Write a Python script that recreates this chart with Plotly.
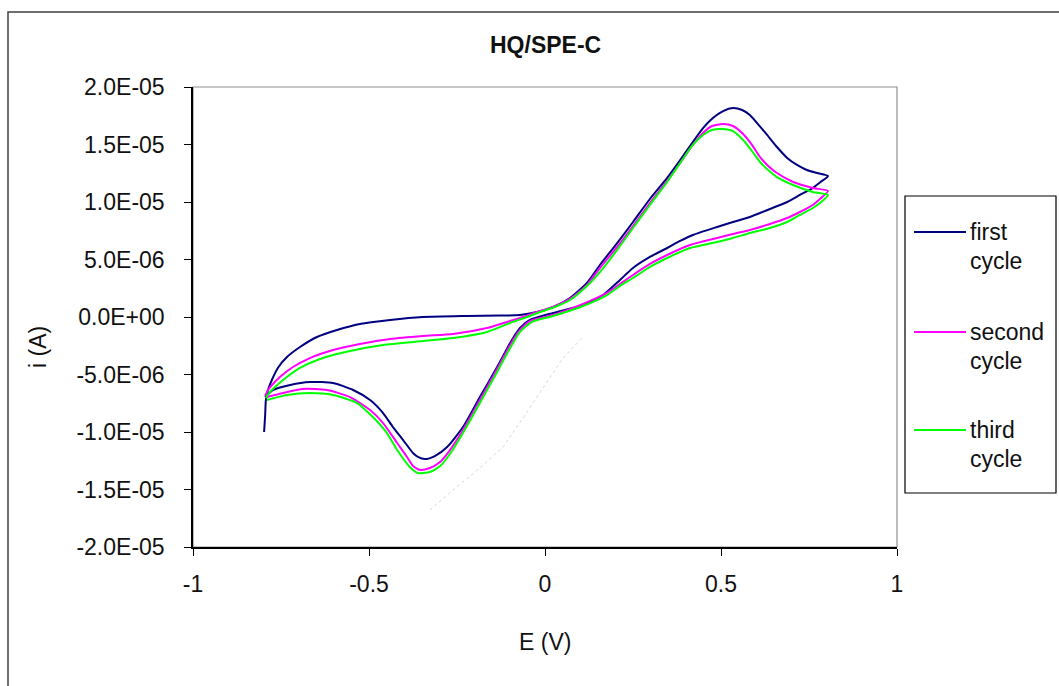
import plotly.graph_objects as go

# ---------------- data ----------------
series_names = ["first cycle", "second cycle", "third cycle"]
series_colors = ["#000080", "#FF00FF", "#00FF00"]

E_first = [-0.798, -0.795, -0.793, -0.787, -0.776, -0.759, -0.733, -0.696, -0.648, -0.591,
           -0.526, -0.440, -0.347, -0.222, -0.128, -0.071, -0.023, 0.023, 0.071, 0.119,
           0.156, 0.205, 0.250, 0.298, 0.347, 0.384, 0.420, 0.449, 0.477, 0.506,
           0.534, 0.560, 0.582, 0.605, 0.631, 0.659, 0.688, 0.716, 0.744, 0.773,
           0.804, 0.781, 0.761, 0.724, 0.688, 0.639, 0.582, 0.534, 0.489, 0.420,
           0.384, 0.347, 0.298, 0.250, 0.213, 0.165, 0.099, 0.023, -0.043, -0.071,
           -0.099, -0.136, -0.185, -0.233, -0.278, -0.313, -0.341, -0.361, -0.375, -0.403,
           -0.432, -0.460, -0.497, -0.545, -0.602, -0.668, -0.724, -0.773, -0.795]
i_first = [-1.000, -0.852, -0.722, -0.635, -0.548, -0.443, -0.348, -0.261, -0.174, -0.113,
           -0.061, -0.026, 0.000, 0.009, 0.013, 0.017, 0.043, 0.087, 0.165, 0.296,
           0.452, 0.643, 0.826, 1.026, 1.209, 1.365, 1.522, 1.643, 1.730, 1.791,
           1.817, 1.800, 1.757, 1.678, 1.583, 1.478, 1.383, 1.322, 1.278, 1.252,
           1.226, 1.170, 1.122, 1.061, 1.000, 0.939, 0.870, 0.826, 0.783, 0.713,
           0.661, 0.600, 0.522, 0.426, 0.322, 0.191, 0.096, 0.035, -0.026, -0.096,
           -0.226, -0.435, -0.696, -0.957, -1.130, -1.209, -1.235, -1.217, -1.183, -1.070,
           -0.957, -0.835, -0.722, -0.635, -0.574, -0.565, -0.591, -0.635, -0.696]

E_second = [-0.795, -0.787, -0.773, -0.753, -0.716, -0.668, -0.602, -0.526, -0.440, -0.347,
            -0.261, -0.165, -0.108, -0.063, -0.023, 0.023, 0.071, 0.119, 0.156, 0.205,
            0.250, 0.298, 0.347, 0.384, 0.420, 0.449, 0.474, 0.506, 0.534, 0.563,
            0.588, 0.611, 0.634, 0.659, 0.705, 0.761, 0.804, 0.781, 0.761, 0.724,
            0.688, 0.639, 0.582, 0.534, 0.489, 0.412, 0.347, 0.298, 0.250, 0.213,
            0.176, 0.108, 0.023, -0.043, -0.071, -0.099, -0.136, -0.185, -0.233, -0.270,
            -0.298, -0.327, -0.355, -0.375, -0.392, -0.420, -0.460, -0.497, -0.554, -0.619,
            -0.688, -0.744, -0.790]
i_second = [-0.687, -0.635, -0.583, -0.522, -0.435, -0.357, -0.287, -0.235, -0.191, -0.165,
            -0.148, -0.096, -0.043, 0.000, 0.043, 0.087, 0.157, 0.278, 0.426, 0.609,
            0.791, 0.991, 1.183, 1.339, 1.496, 1.600, 1.661, 1.678, 1.661, 1.591,
            1.496, 1.391, 1.313, 1.252, 1.174, 1.122, 1.096, 1.026, 0.974, 0.913,
            0.861, 0.809, 0.757, 0.722, 0.687, 0.626, 0.539, 0.461, 0.365, 0.287,
            0.209, 0.113, 0.017, -0.035, -0.113, -0.243, -0.452, -0.722, -0.983, -1.157,
            -1.261, -1.313, -1.330, -1.296, -1.217, -1.096, -0.922, -0.809, -0.696, -0.635,
            -0.626, -0.661, -0.696]

E_third = [-0.793, -0.784, -0.773, -0.744, -0.696, -0.631, -0.554, -0.460, -0.347, -0.261,
           -0.165, -0.099, -0.051, -0.014, 0.028, 0.071, 0.119, 0.156, 0.205, 0.250,
           0.298, 0.347, 0.384, 0.420, 0.449, 0.474, 0.503, 0.534, 0.563, 0.588,
           0.611, 0.634, 0.659, 0.705, 0.761, 0.804, 0.781, 0.761, 0.724, 0.688,
           0.639, 0.582, 0.534, 0.489, 0.412, 0.347, 0.298, 0.250, 0.213, 0.176,
           0.108, 0.023, -0.037, -0.071, -0.099, -0.136, -0.185, -0.233, -0.270, -0.298,
           -0.327, -0.361, -0.384, -0.420, -0.449, -0.489, -0.534, -0.602, -0.668, -0.733,
           -0.790]
i_third = [-0.704, -0.661, -0.626, -0.548, -0.443, -0.357, -0.296, -0.243, -0.209, -0.183,
           -0.130, -0.052, 0.000, 0.043, 0.087, 0.148, 0.270, 0.391, 0.583, 0.774,
           0.974, 1.174, 1.339, 1.496, 1.583, 1.626, 1.635, 1.617, 1.539, 1.443,
           1.348, 1.278, 1.217, 1.148, 1.087, 1.061, 0.991, 0.948, 0.887, 0.826,
           0.774, 0.730, 0.687, 0.652, 0.600, 0.513, 0.435, 0.339, 0.270, 0.191,
           0.096, 0.009, -0.043, -0.130, -0.270, -0.478, -0.748, -1.009, -1.191, -1.296,
           -1.348, -1.357, -1.304, -1.157, -1.009, -0.870, -0.748, -0.678, -0.661, -0.678,
           -0.722]

# faint dotted artefact line visible in the original
E_faint = [-0.327, -0.261, -0.185, -0.119, -0.051, 0.006, 0.051, 0.108]
i_faint = [-1.678, -1.504, -1.313, -1.130, -0.826, -0.565, -0.357, -0.174]

current_scale = 1e-5  # currents above are in units of 1e-5 A

x_tickvals = [-1, -0.5, 0, 0.5, 1]
x_ticktext = ["-1", "-0.5", "0", "0.5", "1"]
y_tickvals = [2.0e-05, 1.5e-05, 1.0e-05, 5.0e-06, 0.0, -5.0e-06, -1.0e-05, -1.5e-05, -2.0e-05]
y_ticktext = ["2.0E-05", "1.5E-05", "1.0E-05", "5.0E-06", "0.0E+00",
              "-5.0E-06", "-1.0E-05", "-1.5E-05", "-2.0E-05"]

chart_title = "HQ/SPE-C"
x_title = "E (V)"
y_title = "i (A)"

# ---------------- figure ----------------
W, H = 1059, 686
# plot area on the page: x 193..897, y 87..547
L, T = 193, 87
R, B = W - 897, H - 547
PW, PH = W - L - R, H - T - B


def px(xpage):
    return (xpage - L) / PW


def py(ypage):
    return (H - B - ypage) / PH


FONT = "Liberation Sans, Arial, sans-serif"
FS = 23

fig = go.Figure()

fig.add_trace(go.Scatter(x=E_faint, y=[v * current_scale for v in i_faint], mode="lines",
                         line=dict(color="#d8d8d8", width=1, dash="dot"),
                         showlegend=False, hoverinfo="skip"))

all_E = [E_first, E_second, E_third]
all_i = [i_first, i_second, i_third]
for name, col, ex, iy in zip(series_names, series_colors, all_E, all_i):
    fig.add_trace(go.Scatter(x=ex, y=[v * current_scale for v in iy], mode="lines",
                             name=name, line=dict(color=col, width=2, shape="spline",
                                                  smoothing=0.6),
                             showlegend=False))

shapes = []
# outer chart frame
shapes.append(dict(type="rect", xref="paper", yref="paper",
                   x0=px(8), x1=px(1075), y0=py(12), y1=py(705),
                   line=dict(color="#404040", width=1.5), layer="below"))
# plot-area border (grey top/right)
shapes.append(dict(type="rect", xref="paper", yref="paper", x0=0, x1=1, y0=0, y1=1,
                   line=dict(color="#909090", width=1.2), layer="below"))
# legend box
shapes.append(dict(type="rect", xref="paper", yref="paper",
                   x0=px(905), x1=px(1056), y0=py(196), y1=py(493),
                   line=dict(color="#000000", width=1.2), fillcolor="white"))

legend_rows = [232, 332, 430]
annotations = []
for name, col, yr in zip(series_names, series_colors, legend_rows):
    shapes.append(dict(type="line", xref="paper", yref="paper",
                       x0=px(914), x1=px(966), y0=py(yr), y1=py(yr),
                       line=dict(color=col, width=2)))
    words = name.split(" ")
    for k, w in enumerate(words):
        annotations.append(dict(text=w, xref="paper", yref="paper",
                                x=px(968), y=py(yr + 29 * k), xanchor="left", yanchor="middle",
                                showarrow=False, font=dict(family=FONT, size=FS, color="#111")))

annotations.append(dict(text="<b>" + chart_title + "</b>", xref="paper", yref="paper",
                        x=0.5, y=py(45), xanchor="center", yanchor="middle", showarrow=False,
                        font=dict(family=FONT, size=FS, color="#111")))
annotations.append(dict(text=x_title, xref="paper", yref="paper",
                        x=0.5, y=py(642), xanchor="center", yanchor="middle", showarrow=False,
                        font=dict(family=FONT, size=FS, color="#111")))
annotations.append(dict(text=y_title, xref="paper", yref="paper", textangle=-90,
                        x=px(38), y=py(347), xanchor="center", yanchor="middle", showarrow=False,
                        font=dict(family=FONT, size=FS, color="#111")))

fig.update_layout(
    width=W, height=H,
    margin=dict(l=L, r=R, t=T, b=B, pad=0),
    paper_bgcolor="white", plot_bgcolor="white",
    showlegend=False,
    shapes=shapes, annotations=annotations,
    font=dict(family=FONT, size=FS, color="#111"),
)
fig.update_xaxes(range=[-1, 1], tickvals=x_tickvals, ticktext=x_ticktext,
                 showgrid=False, zeroline=False, showline=True, linecolor="black", linewidth=1.5,
                 ticks="outside", ticklen=7, tickwidth=1.2, tickcolor="black",
                 ticklabelstandoff=9, tickfont=dict(family=FONT, size=FS, color="#111"))
fig.update_yaxes(range=[-2e-05, 2e-05], tickvals=y_tickvals, ticktext=y_ticktext,
                 showgrid=False, zeroline=False, showline=True, linecolor="black", linewidth=1.5,
                 ticks="outside", ticklen=7, tickwidth=1.2, tickcolor="black",
                 ticklabelstandoff=15, tickfont=dict(family=FONT, size=FS, color="#111"))

# remove the default page margin so the 1059x686 figure fills the window exactly
fig.write_html("out.html", default_width="1059px", default_height="686px",
               config={"displayModeBar": False},
               post_script="document.body.style.margin='0px';document.body.style.overflow='hidden';")
